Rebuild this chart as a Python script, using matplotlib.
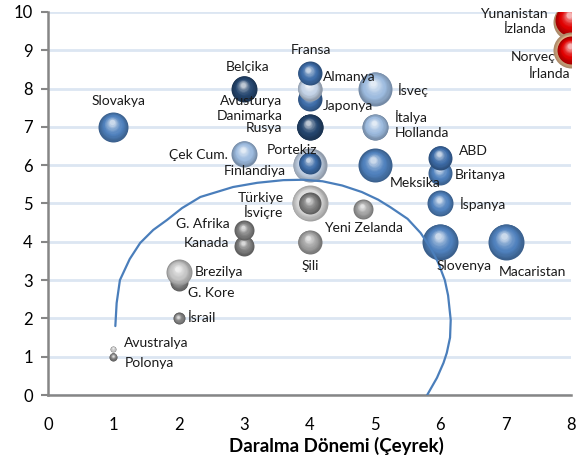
import numpy as np
import matplotlib
matplotlib.use("Agg")
import matplotlib.pyplot as plt
import matplotlib.colors as mcolors
from matplotlib.transforms import offset_copy

plt.rcParams['font.family'] = ['Lato', 'DejaVu Sans']

# ---------------- data ----------------
countries = ['Slovakya', 'Belçika', 'Çek Cum.', 'Avusturya', 'Japonya', 'Almanya', 'Fransa',
             'Danimarka', 'Rusya', 'İsveç', 'İtalya', 'Hollanda', 'Finlandiya', 'Portekiz',
             'Meksika', 'Britanya', 'ABD', 'İspanya', 'Slovenya', 'Macaristan', 'İsviçre',
             'Türkiye', 'Yeni Zelanda', 'Şili', 'Kanada', 'G. Afrika', 'G. Kore', 'Brezilya',
             'İsrail', 'Avustralya', 'Polonya', 'İzlanda', 'Yunanistan', 'İrlanda', 'Norveç']
daralma = [1, 3, 3, 4, 4, 4, 4,
           4, 4, 5, 5, 5, 4, 4,
           5, 6, 6, 6, 6, 7, 4,
           4, 4.82, 4, 3, 3, 2, 2,
           2, 1, 1, 8, 8, 8, 8]
toparlanma = [7, 8, 6.3, 8, 7.72, 8, 8.4,
              7, 7, 8, 7, 7, 6, 6.05,
              6, 5.8, 6.2, 5, 4, 4, 5,
              5, 4.85, 4, 3.9, 4.3, 2.95, 3.2,
              2, 1.2, 1, 9.75, 9.8, 9.0, 9.0]
bubble_size = [15, 13, 13, 12, 12, 12, 12,
               13, 13, 17, 13, 13, 17, 11,
               17, 12, 12, 13, 18, 18, 18,
               11, 10, 12, 10, 10, 9, 13,
               6, 3, 4, 18, 16, 18, 14]

x_ticks = [0, 1, 2, 3, 4, 5, 6, 7, 8]
y_ticks = [0, 1, 2, 3, 4, 5, 6, 7, 8, 9, 10]
x_label = 'Daralma Dönemi (Çeyrek)'

# hand-drawn highlight curve
curve_x = [1.03, 1.05, 1.1, 1.25, 1.41, 1.61, 1.82, 2.05, 2.33, 2.83, 3.2, 3.6, 3.9, 4.2,
           4.5, 4.8, 5.05, 5.24, 5.5, 5.7, 5.85, 5.97, 6.07, 6.12, 6.16, 6.15, 6.1, 6.05,
           5.95, 5.8]
curve_y = [1.8, 2.4, 3.0, 3.55, 3.97, 4.31, 4.57, 4.88, 5.17, 5.43, 5.54, 5.61, 5.62, 5.58,
           5.47, 5.3, 5.1, 4.9, 4.6, 4.23, 3.85, 3.45, 3.0, 2.6, 1.96, 1.5, 1.1, 0.84,
           0.45, 0.0]

# ---------------- styles ----------------
col = {
    'blue': '#4f81bd', 'mblue': '#3d6ca8', 'dblue': '#25466f', 'lblue': '#9dbbdf',
    'pblue': '#c3d2e6', 'gray': '#7f7f7f', 'mgray': '#a0a0a0', 'lgray': '#c4c4c4',
    'wgray': '#dadada', 'red': '#e00000', 'tan': '#e7b98c',
}
colors = ['blue', 'dblue', 'lblue', 'pblue', 'mblue', 'pblue', 'mblue',
          'dblue', 'dblue', 'lblue', 'lblue', 'lblue', 'pblue', 'mblue',
          'blue', 'blue', 'mblue', 'blue', 'blue', 'blue', 'wgray',
          'gray', 'mgray', 'mgray', 'gray', 'gray', 'gray', 'lgray',
          'gray', 'lgray', 'gray', 'tan', 'red', 'tan', 'red']

# label offsets in pixels (dx, dy up) and alignment
label_style = {
    'Slovakya': (5, 26, 'center'), 'Belçika': (3, 22, 'center'), 'Çek Cum.': (-16, -1, 'right'),
    'Avusturya': (-27, -12, 'right'), 'Japonya': (13, -7, 'left'), 'Almanya': (13, 12, 'left'),
    'Fransa': (1, 23, 'center'), 'Danimarka': (-27, 11, 'right'), 'Rusya': (-27, -1, 'right'),
    'İsveç': (23, -1, 'left'), 'İtalya': (20, 10, 'left'), 'Hollanda': (20, -6, 'left'),
    'Finlandiya': (-24, -6, 'right'), 'Portekiz': (-17, 13, 'center'),
    'Meksika': (40, -18, 'center'), 'Britanya': (15, -2, 'left'), 'ABD': (19, 7, 'left'),
    'İspanya': (20, -1, 'left'), 'Slovenya': (24, -24, 'center'),
    'Macaristan': (27, -30, 'center'), 'İsviçre': (-26, -9, 'right'),
    'Türkiye': (-26, 6, 'right'), 'Yeni Zelanda': (0, -19, 'center'), 'Şili': (1, -24, 'center'),
    'Kanada': (-15, 3, 'right'), 'G. Afrika': (-15, 6, 'right'), 'G. Kore': (9, -11, 'left'),
    'Brezilya': (16, 0, 'left'), 'İsrail': (9, 0, 'left'), 'Avustralya': (11, 6, 'left'),
    'Polonya': (11, -6, 'left'), 'İzlanda': (-24, -7, 'right'), 'Yunanistan': (-23, 6, 'right'),
    'İrlanda': (-1, -24, 'right'), 'Norveç': (-15, -7, 'right'),
}

PX2PT = 0.72

fig = plt.figure(figsize=(5.83, 4.58), dpi=100)
ax = fig.add_axes([48 / 583, 63 / 458, 523 / 583, 383 / 458])
ax.set_xlim(0, 8)
ax.set_ylim(0, 10)


def sphere(x, y, r_px, base, z):
    b = np.array(mcolors.to_rgb(base))
    dark = b * 0.74
    light = b + (1 - b) * 0.7
    n = 16
    r_pt = r_px * PX2PT
    for i in range(n):
        t = i / (n - 1)
        rr = r_pt * (1 - 0.82 * t)
        if t < 0.4:
            c = dark + (b - dark) * (t / 0.4)
        else:
            c = b + (light - b) * ((t - 0.4) / 0.6) ** 1.5
        tr = offset_copy(ax.transData, fig=fig, x=-0.1 * r_pt * t, y=0.3 * r_pt * t,
                         units='points')
        ax.scatter([x], [y], s=(2 * rr) ** 2, color=np.clip(c, 0, 1), linewidths=0,
                   transform=tr, zorder=z + i * 0.001)


for k, name in enumerate(countries):
    sphere(daralma[k], toparlanma[k], bubble_size[k], col[colors[k]], 3 + k * 0.05)

for k, name in enumerate(countries):
    dx, dy, ha = label_style[name]
    ax.annotate(name, (daralma[k], toparlanma[k]), xytext=(dx * PX2PT, dy * PX2PT),
                textcoords='offset points', ha=ha, va='center', fontsize=10,
                color='#1a1a1a', zorder=10, annotation_clip=False)

ax.plot(curve_x, curve_y, color='#4a7ebb', lw=1.6, zorder=9, solid_capstyle='round')

# axes styling
ax.set_xticks(x_ticks)
ax.set_yticks(y_ticks)
ax.set_xticklabels([str(v) for v in x_ticks])
ax.set_yticklabels([str(v) for v in y_ticks])
ax.yaxis.grid(True, color='#dce6f2', lw=2)
ax.xaxis.grid(False)
ax.set_axisbelow(True)
for s in ['top', 'right']:
    ax.spines[s].set_visible(False)
for s in ['left', 'bottom']:
    ax.spines[s].set_color('#868686')
    ax.spines[s].set_linewidth(1.8)
    ax.spines[s].set_zorder(2.5)
ax.tick_params(axis='y', length=5, width=1.5, color='#868686', pad=6, labelsize=12)
ax.tick_params(axis='x', length=0, pad=16, labelsize=12)
ax.set_xlabel(x_label, fontsize=13.5, fontweight='bold', labelpad=3)
ax.xaxis.label.set_x(0.551)

fig.savefig('out.png', dpi=100)
